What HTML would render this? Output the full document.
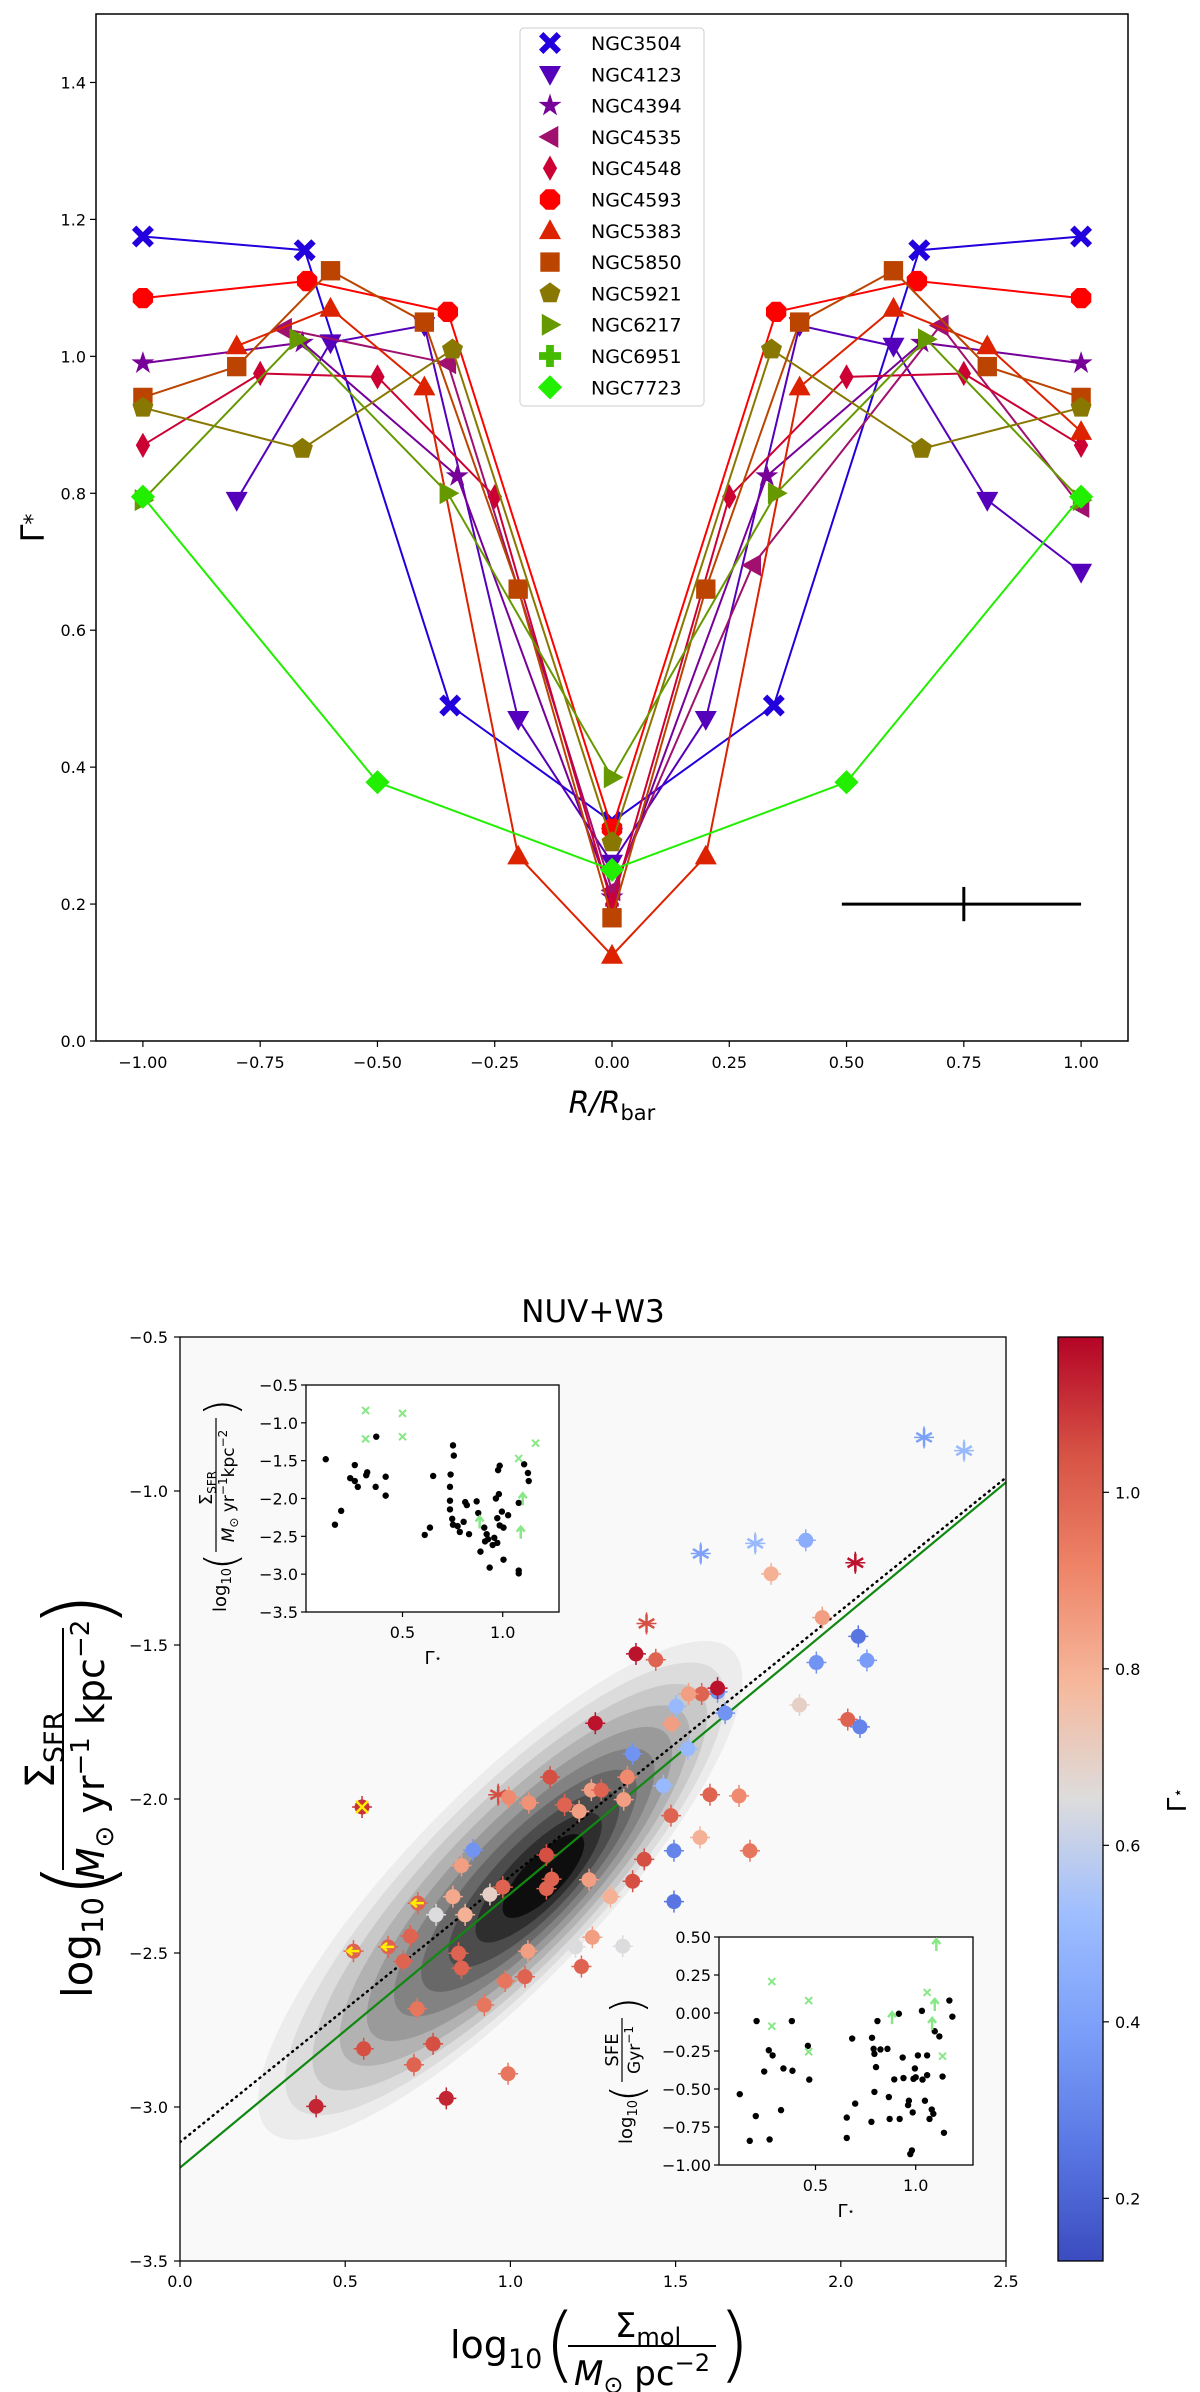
<!DOCTYPE html>
<html><head><meta charset="utf-8"><style>
body{margin:0;background:#fff}
svg{display:block;font-family:"DejaVu Sans","Liberation Sans",sans-serif}
</style></head><body>
<svg id="fig" width="1200" height="2392" viewBox="0 0 1200 2392" xmlns="http://www.w3.org/2000/svg">
<defs>
<linearGradient id="cbgrad" x1="0" y1="1" x2="0" y2="0">
<stop offset="0" stop-color="#3b4cc0"/><stop offset="0.125" stop-color="#5a78e4"/><stop offset="0.25" stop-color="#7b9ff9"/><stop offset="0.375" stop-color="#9ebeff"/><stop offset="0.5" stop-color="#dddcdc"/><stop offset="0.625" stop-color="#f6b89c"/><stop offset="0.75" stop-color="#ee8468"/><stop offset="0.875" stop-color="#d65244"/><stop offset="1" stop-color="#b40426"/>
</linearGradient>
<clipPath id="clipTop"><rect x="96" y="14" width="1032" height="1027"/></clipPath>
<clipPath id="clipMain"><rect x="180" y="1337" width="826" height="924"/></clipPath>
</defs>
<g id="top"></g>
<g id="bottom"></g>
</svg>
<script>
// ---------- TOP CHART DATA ----------
const seriesNames = ["NGC3504","NGC4123","NGC4394","NGC4535","NGC4548","NGC4593","NGC5383","NGC5850","NGC5921","NGC6217","NGC6951","NGC7723"];
const seriesColors = ["#2200dd","#5500bb","#770099","#a0106e","#cc0033","#ff0000","#dd2200","#bb4400","#887700","#669900","#44bb00","#22ee00"];
const seriesMarkers = ["X","v","*","<","d","o","^","s","p",">","P","D"];
const x3504 = [-1,-0.655,-0.345,0,0.345,0.655,1];
const y3504 = [1.175,1.155,0.49,0.32,0.49,1.155,1.175];
const x4123 = [-0.8,-0.6,-0.4,-0.2,0,0.2,0.4,0.6,0.8,1];
const y4123 = [0.79,1.02,1.045,0.47,0.26,0.47,1.045,1.015,0.79,0.685];
const x4394 = [-1,-0.66,-0.33,0,0.33,0.66,1];
const y4394 = [0.99,1.02,0.825,0.21,0.825,1.02,0.99];
const x4535 = [-0.7,-0.35,0,0.3,0.7,1];
const y4535 = [1.04,0.99,0.22,0.695,1.045,0.78];
const x4548 = [-1,-0.75,-0.5,-0.25,0,0.25,0.5,0.75,1];
const y4548 = [0.87,0.975,0.97,0.795,0.2,0.795,0.97,0.975,0.87];
const x4593 = [-1,-0.65,-0.35,0,0.35,0.65,1];
const y4593 = [1.085,1.11,1.065,0.31,1.065,1.11,1.085];
const x5383 = [-0.8,-0.6,-0.4,-0.2,0,0.2,0.4,0.6,0.8,1];
const y5383 = [1.015,1.07,0.955,0.27,0.125,0.27,0.955,1.07,1.015,0.89];
const x5850 = [-1,-0.8,-0.6,-0.4,-0.2,0,0.2,0.4,0.6,0.8,1];
const y5850 = [0.94,0.985,1.125,1.05,0.66,0.18,0.66,1.05,1.125,0.985,0.94];
const x5921 = [-1,-0.66,-0.34,0,0.34,0.66,1];
const y5921 = [0.925,0.865,1.01,0.29,1.01,0.865,0.925];
const x6217 = [-1,-0.67,-0.35,0,0.35,0.67,1];
const y6217 = [0.79,1.025,0.8,0.385,0.8,1.025,0.79];
const x6951 = [];
const y6951 = [];
const x7723 = [-1,-0.5,0,0.5,1];
const y7723 = [0.795,0.378,0.25,0.378,0.795];
const topXTicks = [-1.0,-0.75,-0.5,-0.25,0,0.25,0.5,0.75,1.0];
const topXTickLabels = ["\u22121.00","\u22120.75","\u22120.50","\u22120.25","0.00","0.25","0.50","0.75","1.00"];
const topYTicks = [0,0.2,0.4,0.6,0.8,1.0,1.2,1.4];
const topYTickLabels = ["0.0","0.2","0.4","0.6","0.8","1.0","1.2","1.4"];
const errX = [0.49,1.0]; const errCenter = [0.75,0.2]; const errY = [0.175,0.225];

// ---------- BOTTOM CHART DATA ----------
const molX = [2.252,2.373,1.576,1.741,1.894,1.789,2.044,1.944,2.053,1.926,2.079,1.875,2.021,2.058,1.412,1.38,1.44,1.627,1.579,1.539,1.502,1.65,1.257,1.488,1.37,1.537,1.12,1.354,0.963,0.995,1.056,1.164,1.245,1.275,1.343,1.463,1.208,1.604,1.692,1.486,1.574,1.725,1.495,1.405,1.495,0.551,0.887,0.852,1.109,1.125,1.109,1.238,1.37,1.303,0.977,0.938,0.826,0.863,0.775,0.72,0.697,0.525,0.63,0.676,0.843,0.852,1.053,1.197,1.248,1.34,1.215,0.984,1.044,0.921,0.718,0.556,0.766,0.708,0.993,0.806,0.412,1.627];
const sfrY = [-0.826,-0.869,-1.203,-1.17,-1.16,-1.269,-1.233,-1.411,-1.472,-1.557,-1.55,-1.695,-1.742,-1.766,-1.43,-1.529,-1.548,-1.652,-1.659,-1.659,-1.699,-1.721,-1.754,-1.756,-1.853,-1.837,-1.929,-1.929,-1.986,-1.995,-2.012,-2.019,-1.971,-1.971,-2.002,-1.957,-2.04,-1.986,-1.99,-2.054,-2.125,-2.168,-2.168,-2.196,-2.333,-2.026,-2.166,-2.216,-2.182,-2.26,-2.291,-2.262,-2.267,-2.317,-2.286,-2.31,-2.317,-2.376,-2.376,-2.338,-2.445,-2.494,-2.48,-2.527,-2.501,-2.549,-2.494,-2.48,-2.449,-2.478,-2.544,-2.591,-2.577,-2.669,-2.681,-2.811,-2.795,-2.863,-2.892,-2.972,-2.998,-1.64];
const gammaC = [0.4,0.5,0.4,0.5,0.45,0.8,1.15,0.85,0.25,0.35,0.38,0.7,1.0,0.3,1.05,1.15,1.0,0.35,1.0,0.85,0.5,0.35,1.15,0.85,0.35,0.5,1.05,0.9,1.05,0.9,0.88,1.0,0.85,1.0,0.85,0.5,0.85,1.0,0.9,1.0,0.8,0.95,0.3,1.05,0.25,1.1,0.35,0.85,1.05,1.0,1.0,0.85,1.05,0.8,1.0,0.7,0.82,0.8,0.65,1.0,1.0,1.0,1.0,1.0,1.0,1.0,0.85,0.65,0.85,0.65,1.0,0.95,1.0,0.95,0.95,1.05,1.05,1.0,0.95,1.12,1.12,1.15];
const markerKind = ["star","star","star","star","o","o","star","o","o","o","o","o","o","o","star","o","o","o","o","o","o","o","o","o","o","o","o","o","star","o","o","o","o","o","o","o","o","o","o","o","o","o","o","o","o","cross","o","o","o","o","o","o","o","o","o","o","o","o","o","arrow","o","arrow","arrow","o","o","o","o","o","o","o","o","o","o","o","o","o","o","o","o","o","o","o"];
const fitSolid = [-3.197,0.89];   // intercept, slope
const fitDotted = [-3.114,0.863];
const mainXTicks = [0,0.5,1.0,1.5,2.0,2.5];
const mainXTickLabels = ["0.0","0.5","1.0","1.5","2.0","2.5"];
const mainYTicks = [-3.5,-3.0,-2.5,-2.0,-1.5,-1.0,-0.5];
const mainYTickLabels = ["\u22123.5","\u22123.0","\u22122.5","\u22122.0","\u22121.5","\u22121.0","\u22120.5"];
const cbTicks = [0.2,0.4,0.6,0.8,1.0];
const cbTickLabels = ["0.2","0.4","0.6","0.8","1.0"];
const kdeLevels = [0.1,0.2,0.3,0.4,0.5,0.6,0.7,0.8,0.9,1.0];
const kdeGrays = ["#ececec","#dcdcdc","#c8c8c8","#b2b2b2","#9a9a9a","#828282","#686868","#4c4c4c","#2e2e2e","#0e0e0e"];
// inset 1 (Gamma vs log SFR)
const in1X = [0.117,0.163,0.194,0.239,0.262,0.277,0.262,0.319,0.369,0.366,0.324,0.416,0.416,0.653,0.611,0.637,0.752,0.756,0.74,0.737,0.737,0.737,0.748,0.752,0.775,0.786,0.813,0.821,0.805,0.832,0.870,0.878,0.889,0.912,0.927,0.920,0.935,0.950,0.973,0.958,0.985,0.973,0.981,0.977,0.985,1.004,0.996,1.027,1.080,1.080,1.107,1.126,1.130,0.966,0.908,1.004,1.080];
const in1Y = [-1.481,-2.346,-2.163,-1.731,-1.558,-1.846,-1.769,-1.692,-1.183,-1.846,-1.654,-1.712,-1.962,-1.702,-2.481,-2.385,-1.298,-1.433,-1.683,-1.846,-2.144,-2.029,-2.269,-2.346,-2.365,-2.442,-2.048,-2.087,-2.308,-2.471,-2.038,-2.192,-2.702,-2.567,-2.538,-2.471,-2.913,-2.615,-2.587,-2.519,-2.356,-2.26,-1.942,-1.625,-1.567,-2.808,-2.173,-2.221,-2.990,-2.952,-1.548,-1.663,-1.769,-2.0,-2.385,-2.385,-2.058];
const in1GX = [0.316,0.316,0.5,0.5,1.08,1.164];
const in1GY = [-0.837,-1.212,-0.875,-1.183,-1.471,-1.269];
const in1AX = [0.885,1.09,1.10];
const in1AY = [-2.317,-2.452,-2.010];
const in1YTicks = [-3.5,-3.0,-2.5,-2.0,-1.5,-1.0,-0.5];
const in1YTickLabels = ["\u22123.5","\u22123.0","\u22122.5","\u22122.0","\u22121.5","\u22121.0","\u22120.5"];
const inXTicks = [0.5,1.0];
const inXTickLabels = ["0.5","1.0"];
// inset 2 (Gamma vs log SFE)
const in2X = [0.122,0.172,0.202,0.271,0.206,0.244,0.267,0.286,0.328,0.340,0.382,0.385,0.462,0.469,0.656,0.656,0.683,0.698,0.779,0.782,0.790,0.794,0.802,0.794,0.809,0.824,0.859,0.866,0.870,0.893,0.916,0.920,0.935,0.939,0.962,0.966,0.973,0.981,0.985,0.989,0.996,1.0,1.011,1.031,1.034,1.046,1.057,1.069,1.080,1.088,1.095,1.118,1.134,1.141,1.168,1.183,1.057];
const in2Y = [-0.534,-0.841,-0.678,-0.832,-0.053,-0.385,-0.245,-0.279,-0.639,-0.365,-0.053,-0.380,-0.216,-0.438,-0.822,-0.688,-0.168,-0.596,-0.716,-0.163,-0.236,-0.269,-0.356,-0.519,-0.053,-0.240,-0.236,-0.553,-0.697,-0.437,-0.005,-0.697,-0.293,-0.428,-0.606,-0.577,-0.928,-0.904,-0.654,-0.433,-0.365,-0.423,-0.279,0.014,-0.438,-0.577,-0.409,-0.697,-0.635,-0.663,-0.120,-0.154,-0.418,-0.788,0.082,-0.024,-0.279];
const in2GX = [0.282,0.282,0.466,0.466,1.134,1.057];
const in2GY = [0.207,-0.087,0.082,-0.255,-0.284,0.135];
const in2AX = [1.103,0.882,1.082,1.095];
const in2AY = [0.447,-0.034,-0.072,0.053];
const in2YTicks = [-1.0,-0.75,-0.5,-0.25,0,0.25,0.5];
const in2YTickLabels = ["\u22121.00","\u22120.75","\u22120.50","\u22120.25","0.00","0.25","0.50"];

// ---------- helpers ----------
const NS = "http://www.w3.org/2000/svg";
function mk(parent, tag, attrs, text){
  const e = document.createElementNS(NS, tag);
  for (const k in attrs) e.setAttribute(k, attrs[k]);
  if (text !== undefined) e.textContent = text;
  parent.appendChild(e);
  return e;
}
function lin(d0,d1,p0,p1){ return v => p0 + (v-d0)*(p1-p0)/(d1-d0); }
const cmapStops = [[0,59,76,192],[0.125,90,120,228],[0.25,123,159,249],[0.375,158,190,255],[0.5,221,220,220],[0.625,246,184,156],[0.75,238,132,104],[0.875,214,82,68],[1,180,4,38]];
function coolwarm(t){
  t = Math.max(0, Math.min(1, t));
  for (let i=0;i<cmapStops.length-1;i++){
    const a=cmapStops[i], b=cmapStops[i+1];
    if (t<=b[0]){ const f=(t-a[0])/(b[0]-a[0]);
      return `rgb(${Math.round(a[1]+f*(b[1]-a[1]))},${Math.round(a[2]+f*(b[2]-a[2]))},${Math.round(a[3]+f*(b[3]-a[3]))})`; }
  }
  return "rgb(180,4,38)";
}
function marker(g, kind, cx, cy, s, color){
  let e;
  const pts = arr => arr.map(p => (cx+p[0]*s).toFixed(1)+","+(cy+p[1]*s).toFixed(1)).join(" ");
  switch(kind){
    case "o": {
      const a=[]; for(let i=0;i<8;i++){const t=Math.PI/8+i*Math.PI/4; a.push([Math.cos(t),Math.sin(t)]);}
      e = mk(g,"polygon",{points:pts(a),fill:color}); break; }
    case "s": e = mk(g,"rect",{x:cx-s*0.88,y:cy-s*0.88,width:s*1.76,height:s*1.76,fill:color}); break;
    case "^": e = mk(g,"polygon",{points:pts([[0,-1.05],[1,0.75],[-1,0.75]]),fill:color}); break;
    case "v": e = mk(g,"polygon",{points:pts([[0,1.05],[1,-0.75],[-1,-0.75]]),fill:color}); break;
    case "<": e = mk(g,"polygon",{points:pts([[-1.05,0],[0.75,-1],[0.75,1]]),fill:color}); break;
    case ">": e = mk(g,"polygon",{points:pts([[1.05,0],[-0.75,-1],[-0.75,1]]),fill:color}); break;
    case "D": e = mk(g,"polygon",{points:pts([[0,-1.1],[1.1,0],[0,1.1],[-1.1,0]]),fill:color}); break;
    case "d": e = mk(g,"polygon",{points:pts([[0,-1.15],[0.65,0],[0,1.15],[-0.65,0]]),fill:color}); break;
    case "p": { const a=[]; for(let i=0;i<5;i++){const t=-Math.PI/2+i*2*Math.PI/5; a.push([Math.cos(t),Math.sin(t)]);}
      e = mk(g,"polygon",{points:pts(a),fill:color}); break; }
    case "*": { const a=[]; for(let i=0;i<10;i++){const t=-Math.PI/2+i*Math.PI/5; const r=i%2?0.42:1.1; a.push([r*Math.cos(t),r*Math.sin(t)]);}
      e = mk(g,"polygon",{points:pts(a),fill:color}); break; }
    case "X": e = mk(g,"polygon",{points:pts([[-1,-0.6],[-0.6,-1],[0,-0.4],[0.6,-1],[1,-0.6],[0.4,0],[1,0.6],[0.6,1],[0,0.4],[-0.6,1],[-1,0.6],[-0.4,0]]),fill:color}); break;
    case "P": e = mk(g,"polygon",{points:pts([[-0.35,-1],[0.35,-1],[0.35,-0.35],[1,-0.35],[1,0.35],[0.35,0.35],[0.35,1],[-0.35,1],[-0.35,0.35],[-1,0.35],[-1,-0.35],[-0.35,-0.35]]),fill:color}); break;
  }
  return e;
}

// ================= TOP CHART =================
(function(){
  const g = document.getElementById("top");
  const X = lin(-1.1,1.1,96,1128), Y = lin(0,1.5,1041,14);
  mk(g,"rect",{x:96,y:14,width:1032,height:1027,fill:"#fff"});
  const allX=[x3504,x4123,x4394,x4535,x4548,x4593,x5383,x5850,x5921,x6217,x6951,x7723];
  const allY=[y3504,y4123,y4394,y4535,y4548,y4593,y5383,y5850,y5921,y6217,y6951,y7723];
  const plot = mk(g,"g",{"clip-path":"url(#clipTop)"});
  for (let s=0;s<seriesNames.length;s++){
    const sg = mk(plot,"g",{});
    
    
    if (allX[s].length){
      const d = allX[s].map((v,i)=>(i?"L":"M")+X(v).toFixed(1)+","+Y(allY[s][i]).toFixed(1)).join("");
      mk(sg,"path",{d:d,fill:"none",stroke:seriesColors[s],"stroke-width":2});
    }
    for (let i=0;i<allX[s].length;i++){
      const m = marker(sg, seriesMarkers[s], X(allX[s][i]), Y(allY[s][i]), 11, seriesColors[s]);
      
      
    }
  }
  const eg = mk(g,"g",{stroke:"#000","stroke-width":3});
  
  
  mk(eg,"line",{x1:X(errX[0]),x2:X(errX[1]),y1:Y(errCenter[1]),y2:Y(errCenter[1])});
  mk(eg,"line",{x1:X(errCenter[0]),x2:X(errCenter[0]),y1:Y(errY[0]),y2:Y(errY[1])});
  const fr = mk(g,"rect",{x:96,y:14,width:1032,height:1027,fill:"none",stroke:"#000","stroke-width":1.5});
  
  
  topXTicks.forEach((t,i)=>{
    mk(g,"line",{x1:X(t),x2:X(t),y1:1041,y2:1047,stroke:"#000","stroke-width":1.2});
    const tl = mk(g,"text",{x:X(t),y:1068,"text-anchor":"middle","font-size":16},topXTickLabels[i]);
    
    
  });
  topYTicks.forEach((t,i)=>{
    mk(g,"line",{x1:90,x2:96,y1:Y(t),y2:Y(t),stroke:"#000","stroke-width":1.2});
    const tl = mk(g,"text",{x:86,y:Y(t)+6,"text-anchor":"end","font-size":16},topYTickLabels[i]);
    
    
  });
  const xl = mk(g,"text",{x:612,y:1113,"text-anchor":"middle","font-size":30,"font-style":"italic"});
  xl.innerHTML = 'R/R<tspan font-size="21" dy="7" font-style="normal">bar</tspan>';
  
  
  const yl = mk(g,"text",{x:0,y:0,"text-anchor":"middle","font-size":32,transform:"translate(44,528) rotate(-90)"});
  yl.innerHTML = 'Γ<tspan font-size="22" dy="-4">*</tspan>';
  
  
  const lg = mk(g,"g",{});
  
  
  mk(lg,"rect",{x:520,y:28,width:184,height:378,rx:4,fill:"#fff","fill-opacity":0.85,stroke:"#ccc","stroke-width":1});
  seriesNames.forEach((n,i)=>{
    const eg2 = mk(lg,"g",{});
    
    
    const cy = 43 + i*31.3;
    marker(eg2, seriesMarkers[i], 550, cy, 11, seriesColors[i]);
    mk(eg2,"text",{x:591,y:cy+7,"font-size":19},n);
  });
})();

// ================= BOTTOM CHART =================
(function(){
  const g = document.getElementById("bottom");
  const X = lin(0,2.5,180,1006), Y = lin(-3.5,-0.5,2261,1337);
  const vmin=0.129, vmax=1.176;
  const C = v => coolwarm((v-vmin)/(vmax-vmin));
  const t = mk(g,"text",{x:593,y:1322,"text-anchor":"middle","font-size":31},"NUV+W3");
  
  
  mk(g,"rect",{x:180,y:1337,width:826,height:924,fill:"#f9f9f9"});
  const plot = mk(g,"g",{"clip-path":"url(#clipMain)"});
  const kg = mk(plot,"g",{});
  
  
  const cx0 = X(1.1), cy0 = Y(-2.25);
  kdeLevels.forEach((lv,i)=>{
    const a = 365*(1-lv)+55*lv, b = 105*(1-lv)+20*lv;
    const f = (1-lv);
    const ex = cx0 - 48*f, ey = cy0 + 16*f;
    mk(kg,"ellipse",{cx:ex,cy:ey,rx:a,ry:b,fill:kdeGrays[i],transform:`rotate(-46 ${ex} ${ey})`});
  });
  const fl = mk(plot,"line",{x1:X(0),y1:Y(fitSolid[0]),x2:X(2.5),y2:Y(fitSolid[0]+2.5*fitSolid[1]),stroke:"#118811","stroke-width":2.2});
  
  
  const dl = mk(plot,"line",{x1:X(0),y1:Y(fitDotted[0]),x2:X(2.5),y2:Y(fitDotted[0]+2.5*fitDotted[1]),stroke:"#000","stroke-width":2.5,"stroke-dasharray":"1 5","stroke-linecap":"round"});
  
  
  const pg = mk(plot,"g",{});
  
  
  for (let i=0;i<molX.length;i++){
    const px=X(molX[i]), py=Y(sfrY[i]), col=C(gammaC[i]);
    const pt = mk(pg,"g",{});
    
    
    mk(pt,"line",{x1:px,x2:px,y1:py-11,y2:py+11,stroke:col,"stroke-width":1.5});
    mk(pt,"line",{x1:px-10,x2:px+10,y1:py,y2:py,stroke:col,"stroke-width":1.5});
    const k = markerKind[i];
    if (k==="star"){
      for (let a=0;a<3;a++){ const th=a*Math.PI/3+Math.PI/2;
        mk(pt,"line",{x1:px-9*Math.cos(th),y1:py-9*Math.sin(th),x2:px+9*Math.cos(th),y2:py+9*Math.sin(th),stroke:col,"stroke-width":2.5}); }
    } else {
      mk(pt,"circle",{cx:px,cy:py,r:7.5,fill:col});
      if (k==="cross"){
        mk(pt,"path",{d:`M${px-6},${py-6}L${px+6},${py+6}M${px+6},${py-6}L${px-6},${py+6}`,stroke:"#ffee00","stroke-width":2.5});
      } else if (k==="arrow"){
        mk(pt,"path",{d:`M${px+6},${py}L${px-5},${py}M${px-1},${py-4}L${px-6},${py}L${px-1},${py+4}`,stroke:"#ffee00","stroke-width":2.5,fill:"none"});
      }
    }
  }
  const fr = mk(g,"rect",{x:180,y:1337,width:826,height:924,fill:"none",stroke:"#000","stroke-width":1.3});
  
  
  mainXTicks.forEach((tk,i)=>{
    mk(g,"line",{x1:X(tk),x2:X(tk),y1:2261,y2:2267,stroke:"#000","stroke-width":1.2});
    const tl = mk(g,"text",{x:X(tk),y:2287,"text-anchor":"middle","font-size":16},mainXTickLabels[i]);
    
    
  });
  mainYTicks.forEach((tk,i)=>{
    mk(g,"line",{x1:174,x2:180,y1:Y(tk),y2:Y(tk),stroke:"#000","stroke-width":1.2});
    const tl = mk(g,"text",{x:168,y:Y(tk)+6,"text-anchor":"end","font-size":16},mainYTickLabels[i]);
    
    
  });
  const xg = mk(g,"g",{});
  
  
  mk(xg,"text",{x:450,y:2358,"font-size":38}).innerHTML='log<tspan font-size="27" dy="10">10</tspan>';
  mk(xg,"text",{x:544,y:2372,"font-size":82,"font-weight":"100"},"(");
  mk(xg,"text",{x:648,y:2337,"text-anchor":"middle","font-size":34}).innerHTML='Σ<tspan font-size="24" dy="8">mol</tspan>';
  mk(xg,"line",{x1:568,x2:716,y1:2346,y2:2346,stroke:"#000","stroke-width":2});
  mk(xg,"text",{x:642,y:2385,"text-anchor":"middle","font-size":34}).innerHTML='<tspan font-style="italic">M</tspan><tspan font-size="24" dy="8">⊙</tspan><tspan dy="-8"> pc</tspan><tspan font-size="24" dy="-14">−2</tspan>';
  mk(xg,"text",{x:718,y:2372,"font-size":82,"font-weight":"100"},")");
  const yg = mk(g,"g",{transform:"translate(0,1800) rotate(-90)"});
  
  
  mk(yg,"text",{x:-198,y:92,"font-size":42}).innerHTML='log<tspan font-size="29" dy="11">10</tspan>';
  mk(yg,"text",{x:-98,y:110,"font-size":92,"font-weight":"100"},"(");
  mk(yg,"text",{x:50,y:54,"text-anchor":"middle","font-size":40}).innerHTML='Σ<tspan font-size="27" dy="9">SFR</tspan>';
  mk(yg,"line",{x1:-70,x2:172,y1:63,y2:63,stroke:"#000","stroke-width":2});
  mk(yg,"text",{x:50,y:104,"text-anchor":"middle","font-size":38}).innerHTML='<tspan font-style="italic">M</tspan><tspan font-size="26" dy="9">⊙</tspan><tspan dy="-9"> yr</tspan><tspan font-size="26" dy="-15">−1</tspan><tspan dy="15"> kpc</tspan><tspan font-size="26" dy="-15">−2</tspan>';
  mk(yg,"text",{x:172,y:110,"font-size":92,"font-weight":"100"},")");

  const cb = mk(g,"g",{});
  
  
  const CY = lin(0.129,1.176,2261,1337);
  mk(cb,"rect",{x:1058,y:1337,width:45,height:924,fill:"url(#cbgrad)",stroke:"#000","stroke-width":1.3});
  cbTicks.forEach((tk,i)=>{
    mk(cb,"line",{x1:1103,x2:1109,y1:CY(tk),y2:CY(tk),stroke:"#000","stroke-width":1.2});
    const tl = mk(cb,"text",{x:1115,y:CY(tk)+6,"font-size":16},cbTickLabels[i]);
    
    
  });
  const cl = mk(cb,"text",{x:0,y:0,"text-anchor":"middle","font-size":26,transform:"translate(1186,1800) rotate(-90)"});
  cl.innerHTML='Γ<tspan font-size="16" dy="-3">⋆</tspan>';
  
  

  function inset(name, L, T, W, H, ymin, ymax, yTicks, yLabels, bx, by, gx, gy, ax, ay, ylabHTML, ylabX, ylabY){
    const ig = mk(g,"g",{});
    
    
    const IX = lin(0.5,1.0,L+96.5,L+196.7), IY = lin(ymin,ymax,T+H,T);
    mk(ig,"rect",{x:L,y:T,width:W,height:H,fill:"#fff",stroke:"#000","stroke-width":1.3});
    for (let i=0;i<bx.length;i++){
      const d = mk(ig,"circle",{cx:IX(bx[i]),cy:IY(by[i]),r:3.2,fill:"#000"});
      
      
    }
    for (let i=0;i<gx.length;i++){
      const px=IX(gx[i]), py=IY(gy[i]);
      const d = mk(ig,"path",{d:`M${px-3.5},${py-3.5}L${px+3.5},${py+3.5}M${px+3.5},${py-3.5}L${px-3.5},${py+3.5}`,stroke:"#88e888","stroke-width":2});
      
      
    }
    for (let i=0;i<ax.length;i++){
      const px=IX(ax[i]), py=IY(ay[i]);
      const d = mk(ig,"path",{d:`M${px},${py+6}L${px},${py-5}M${px-4},${py-1}L${px},${py-6}L${px+4},${py-1}`,stroke:"#88e888","stroke-width":2.5,fill:"none"});
      
      
    }
    yTicks.forEach((tk,i)=>{
      mk(ig,"line",{x1:L-5,x2:L,y1:IY(tk),y2:IY(tk),stroke:"#000","stroke-width":1.2});
      mk(ig,"text",{x:L-8,y:IY(tk)+6,"text-anchor":"end","font-size":16},yLabels[i]);
    });
    inXTicks.forEach((tk,i)=>{
      mk(ig,"line",{x1:IX(tk),x2:IX(tk),y1:T+H,y2:T+H+5,stroke:"#000","stroke-width":1.2});
      mk(ig,"text",{x:IX(tk),y:T+H+26,"text-anchor":"middle","font-size":16},inXTickLabels[i]);
    });
    mk(ig,"text",{x:L+127,y:T+H+52,"text-anchor":"middle","font-size":18}).innerHTML='Γ<tspan font-size="11" dy="-2">⋆</tspan>';
    const yl = mk(ig,"g",{transform:`translate(${ylabX},${ylabY}) rotate(-90)`});
    yl.innerHTML = ylabHTML;
  }
  inset("inset-sfr-vs-gamma",306,1385,253,227,-3.5,-0.5,in1YTicks,in1YTickLabels,in1X,in1Y,in1GX,in1GY,in1AX,in1AY,
    '<text x="-112" y="0" font-size="18">log<tspan font-size="13" dy="5">10</tspan></text>'+
    '<text x="-70" y="10" font-size="44" font-weight="100">(</text>'+
    '<text x="12" y="-14" text-anchor="middle" font-size="18">Σ<tspan font-size="12" dy="4">SFR</tspan></text>'+
    '<line x1="-52" x2="82" y1="-10" y2="-10" stroke="#000" stroke-width="1.2"/>'+
    '<text x="14" y="8" text-anchor="middle" font-size="17"><tspan font-style="italic">M</tspan><tspan font-size="12" dy="4">⊙</tspan><tspan dy="-4"> yr</tspan><tspan font-size="12" dy="-7">−1</tspan><tspan dy="7">kpc</tspan><tspan font-size="12" dy="-7">−2</tspan></text>'+
    '<text x="84" y="10" font-size="44" font-weight="100">)</text>',
    226,1500);
  inset("inset-sfe-vs-gamma",719,1937,254,228,-1.0,0.5,in2YTicks,in2YTickLabels,in2X,in2Y,in2GX,in2GY,in2AX,in2AY,
    '<text x="-92" y="0" font-size="18">log<tspan font-size="13" dy="5">10</tspan></text>'+
    '<text x="-50" y="10" font-size="44" font-weight="100">(</text>'+
    '<text x="2" y="-14" text-anchor="middle" font-size="18">SFE</text>'+
    '<line x1="-30" x2="34" y1="-10" y2="-10" stroke="#000" stroke-width="1.2"/>'+
    '<text x="2" y="8" text-anchor="middle" font-size="17">Gyr<tspan font-size="12" dy="-7">−1</tspan></text>'+
    '<text x="38" y="10" font-size="44" font-weight="100">)</text>',
    632,2052);
})();
</script>
</body></html>
